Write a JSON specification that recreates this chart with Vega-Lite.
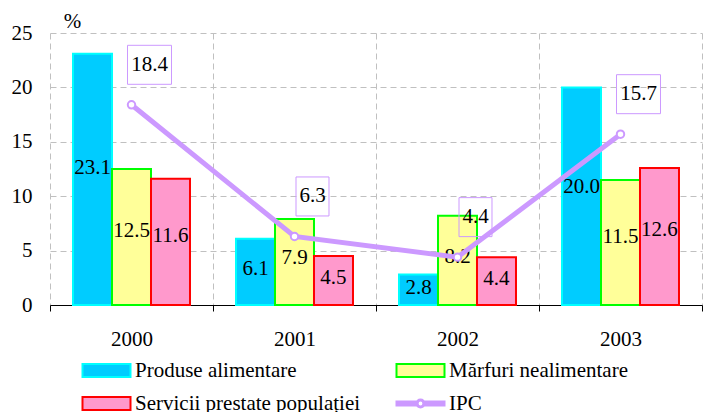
{
  "$schema": "https://vega.github.io/schema/vega-lite/v6.json",
  "width": 652,
  "height": 272,
  "autosize": "none",
  "padding": {"left": 50, "top": 33, "right": 1, "bottom": 107},
  "config": {
    "view": {"stroke": null},
    "font": "'Liberation Serif', 'Times New Roman', 'DejaVu Serif', serif",
    "axis": {"labelFont": "'Liberation Serif', 'Times New Roman', 'DejaVu Serif', serif", "labelFontSize": 21, "labelColor": "#000000", "gridColor": "#C0C0C0", "gridDash": [6, 4], "gridWidth": 1}
  },
  "datasets": {
    "bars": [
      {"year": "2000", "series": "Produse alimentare", "value": 23.1},
      {"year": "2000", "series": "Mărfuri nealimentare", "value": 12.5},
      {"year": "2000", "series": "Servicii prestate populației", "value": 11.6},
      {"year": "2001", "series": "Produse alimentare", "value": 6.1},
      {"year": "2001", "series": "Mărfuri nealimentare", "value": 7.9},
      {"year": "2001", "series": "Servicii prestate populației", "value": 4.5},
      {"year": "2002", "series": "Produse alimentare", "value": 2.8},
      {"year": "2002", "series": "Mărfuri nealimentare", "value": 8.2},
      {"year": "2002", "series": "Servicii prestate populației", "value": 4.4},
      {"year": "2003", "series": "Produse alimentare", "value": 20.0},
      {"year": "2003", "series": "Mărfuri nealimentare", "value": 11.5},
      {"year": "2003", "series": "Servicii prestate populației", "value": 12.6}
    ],
    "ipc": [
      {"year": "2000", "series": "IPC", "value": 18.4},
      {"year": "2001", "series": "IPC", "value": 6.3},
      {"year": "2002", "series": "IPC", "value": 4.4},
      {"year": "2003", "series": "IPC", "value": 15.7}
    ],
    "legendItems": [
      {"series": "Produse alimentare"},
      {"series": "Mărfuri nealimentare"},
      {"series": "Servicii prestate populației"},
      {"series": "IPC"}
    ]
  },
  "resolve": {"scale": {"y": "independent", "fill": "independent", "stroke": "independent", "shape": "independent"}},
  "layer": [
    {
      "data": {"name": "bars"},
      "mark": {"type": "bar", "strokeWidth": 2},
      "encoding": {
        "x": {
          "field": "year", "type": "nominal",
          "scale": {"paddingInner": 0, "paddingOuter": 0},
          "axis": {"title": null, "labelAngle": 0, "tickBand": "extent", "grid": true, "ticks": true, "tickSize": 6, "tickColor": "#000000", "domain": true, "domainColor": "#000000", "domainWidth": 1, "labelPadding": 17}
        },
        "xOffset": {
          "field": "series", "type": "nominal",
          "scale": {"domain": ["Produse alimentare", "Mărfuri nealimentare", "Servicii prestate populației"], "paddingInner": 0, "paddingOuter": 0.59}
        },
        "y": {
          "field": "value", "type": "quantitative",
          "scale": {"domain": [0, 25]},
          "axis": {"values": [0, 5, 10, 15, 20, 25], "grid": true, "domain": false, "ticks": false, "labelPadding": 18, "title": "%", "titleAngle": 0, "titleFont": "'Liberation Serif', 'Times New Roman', serif", "titleFontSize": 21, "titleFontWeight": "normal", "titleX": 22, "titleY": -12, "titleAlign": "center", "titleBaseline": "middle"}
        },
        "fill": {
          "field": "series", "type": "nominal",
          "scale": {"domain": ["Produse alimentare", "Mărfuri nealimentare", "Servicii prestate populației"], "range": ["#00CCFF", "#FFFF99", "#FF99CC"]},
          "legend": null
        },
        "stroke": {
          "field": "series", "type": "nominal",
          "scale": {"domain": ["Produse alimentare", "Mărfuri nealimentare", "Servicii prestate populației"], "range": ["#00FFFF", "#00FF00", "#FF0000"]},
          "legend": null
        }
      }
    },
    {
      "data": {"name": "bars"},
      "mark": {"type": "text", "fontSize": 21, "font": "'Liberation Serif', 'Times New Roman', serif", "color": "#000000", "baseline": "middle"},
      "encoding": {
        "x": {"field": "year", "type": "nominal"},
        "xOffset": {"field": "series", "type": "nominal"},
        "y": {"field": "value", "type": "quantitative", "scale": {"domain": [0, 46]}, "axis": null},
        "text": {"field": "value", "type": "quantitative", "format": ".1f"}
      }
    },
    {
      "data": {"name": "ipc"},
      "mark": {"type": "line", "stroke": "#CC99FF", "strokeWidth": 5},
      "encoding": {
        "x": {"field": "year", "type": "nominal"},
        "y": {"field": "value", "type": "quantitative", "scale": {"domain": [0, 25]}, "axis": null}
      }
    },
    {
      "data": {"name": "ipc"},
      "mark": {"type": "point", "filled": true, "fill": "#FFFFFF", "stroke": "#CC99FF", "strokeWidth": 2, "size": 55, "opacity": 1},
      "encoding": {
        "x": {"field": "year", "type": "nominal"},
        "y": {"field": "value", "type": "quantitative", "scale": {"domain": [0, 25]}, "axis": null}
      }
    },
    {
      "data": {"name": "ipc"},
      "mark": {"type": "point", "filled": false, "stroke": "#CC99FF", "strokeWidth": 1, "size": 1521, "opacity": 1, "xOffset": 18, "yOffset": -40},
      "encoding": {
        "x": {"field": "year", "type": "nominal"},
        "y": {"field": "value", "type": "quantitative", "scale": {"domain": [0, 25]}, "axis": null},
        "shape": {
          "field": "value", "type": "nominal",
          "scale": {"domain": [18.4, 6.3, 4.4, 15.7], "range": ["M-1.128,-1L1.128,-1L1.128,1L-1.128,1Z", "M-0.846,-1L0.846,-1L0.846,1L-0.846,1Z", "M-0.846,-1L0.846,-1L0.846,1L-0.846,1Z", "M-1.128,-1L1.128,-1L1.128,1L-1.128,1Z"]},
          "legend": null
        }
      }
    },
    {
      "data": {"name": "ipc"},
      "mark": {"type": "text", "fontSize": 21, "font": "'Liberation Serif', 'Times New Roman', serif", "color": "#000000", "baseline": "middle", "xOffset": 18, "yOffset": -40},
      "encoding": {
        "x": {"field": "year", "type": "nominal"},
        "y": {"field": "value", "type": "quantitative", "scale": {"domain": [0, 25]}, "axis": null},
        "text": {"field": "value", "type": "quantitative", "format": ".1f"}
      }
    },
    {
      "data": {"name": "legendItems"},
      "transform": [{"filter": "false"}],
      "mark": {"type": "point", "filled": true, "strokeWidth": 2, "opacity": 1},
      "encoding": {
        "fill": {
          "field": "series", "type": "nominal",
          "scale": {"domain": ["Produse alimentare", "Mărfuri nealimentare", "Servicii prestate populației", "IPC"], "range": ["#00CCFF", "#FFFF99", "#FF99CC", "#CC99FF"]},
          "legend": {"title": null, "orient": "none", "legendX": 46, "legendY": 327, "direction": "horizontal", "columns": 2, "columnPadding": 31, "rowPadding": 11, "labelFont": "'Liberation Serif', 'Times New Roman', serif", "labelFontSize": 21, "labelColor": "#000000", "labelLimit": 400, "symbolSize": 324, "symbolStrokeWidth": 2, "symbolOpacity": 1, "labelOffset": 18}
        },
        "stroke": {
          "field": "series", "type": "nominal",
          "scale": {"domain": ["Produse alimentare", "Mărfuri nealimentare", "Servicii prestate populației", "IPC"], "range": ["#00FFFF", "#00FF00", "#FF0000", "#CC99FF"]},
          "legend": {"title": null}
        },
        "shape": {
          "field": "series", "type": "nominal",
          "scale": {"domain": ["Produse alimentare", "Mărfuri nealimentare", "Servicii prestate populației", "IPC"], "range": ["M-2.667,-0.72L2.667,-0.72L2.667,0.72L-2.667,0.72Z", "M-2.667,-0.72L2.667,-0.72L2.667,0.72L-2.667,0.72Z", "M-2.667,-0.72L2.667,-0.72L2.667,0.72L-2.667,0.72Z", "M-2.667,-0.22L-0.45,-0.22L-0.45,0.22L-2.667,0.22Z M0.45,-0.22L2.667,-0.22L2.667,0.22L0.45,0.22Z M0.45,0A0.45,0.45,0,1,1,-0.45,0A0.45,0.45,0,1,1,0.45,0Z M0.32,0A0.32,0.32,0,1,0,-0.32,0A0.32,0.32,0,1,0,0.32,0Z"]},
          "legend": {"title": null}
        }
      }
    }
  ]
}
